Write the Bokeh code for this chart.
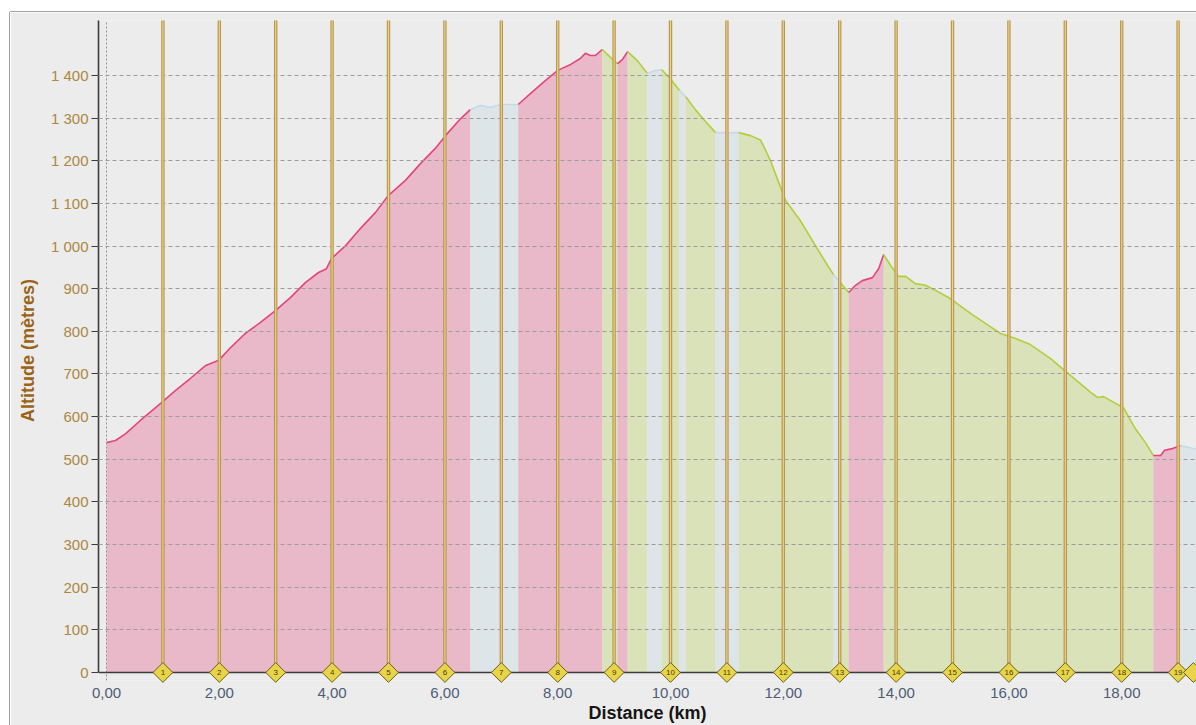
import numpy as np
from bokeh.plotting import figure
from bokeh.models import Range1d, FixedTicker, Span, Spacer
from bokeh.layouts import row, column
from bokeh.core.properties import value
from bokeh.embed import file_html
from bokeh.resources import INLINE

# ---- data ----
dist_km = [0.00, 0.16, 0.34, 0.60, 0.96, 1.22, 1.49, 1.76, 1.99, 2.20,
           2.46, 2.73, 3.00, 3.26, 3.53, 3.76, 3.90, 3.99, 4.24, 4.50,
           4.77, 5.00, 5.30, 5.57, 5.83, 6.01, 6.28, 6.45, 6.63, 6.81,
           6.99, 7.30, 7.52, 7.78, 8.00, 8.23, 8.40, 8.49, 8.58, 8.67,
           8.79, 8.94, 9.06, 9.15, 9.24, 9.41, 9.59, 9.73, 9.84, 10.00,
           10.16, 10.27, 10.44, 10.62, 10.80, 11.21, 11.42, 11.60, 11.77, 12.04,
           12.30, 12.57, 12.75, 12.89, 12.98, 13.16, 13.28, 13.40, 13.58, 13.69,
           13.78, 13.90, 14.04, 14.17, 14.34, 14.52, 14.70, 14.96, 15.32, 15.67,
           15.85, 16.12, 16.38, 16.74, 17.09, 17.45, 17.57, 17.68, 17.89, 18.03,
           18.24, 18.42, 18.56, 18.69, 18.76, 18.90, 19.04, 19.18, 19.33]
alt_m = [539, 544, 560, 591, 631, 661, 690, 720, 732, 762,
         795, 821, 849, 879, 915, 938, 947, 971, 1001, 1041,
         1079, 1119, 1154, 1194, 1229, 1259, 1299, 1320, 1330, 1325,
         1332, 1332, 1358, 1388, 1412, 1426, 1440, 1452, 1447, 1447,
         1461, 1442, 1428, 1438, 1456, 1435, 1405, 1412, 1414, 1392,
         1365, 1350, 1320, 1292, 1266, 1266, 1259, 1248, 1201, 1107,
         1060, 1001, 962, 933, 919, 891, 908, 919, 926, 947,
         980, 955, 929, 929, 912, 908, 896, 877, 842, 811,
         795, 783, 769, 736, 697, 657, 645, 647, 631, 621,
         572, 539, 509, 509, 521, 525, 532, 528, 523]

seg_start_km = [0.00, 6.45, 7.30, 8.79, 9.06, 9.24, 9.59, 9.84, 10.16, 10.27,
                10.80, 11.21, 12.89, 12.98, 13.16, 13.78, 18.56, 19.04]
seg_kind = ["climb", "flat", "climb", "desc", "climb", "desc", "flat", "desc", "flat", "desc",
            "flat", "desc", "flat", "desc", "climb", "desc", "climb", "flat"]
track_end_km = 19.33

km_marks = [1, 2, 3, 4, 5, 6, 7, 8, 9, 10, 11, 12, 13, 14, 15, 16, 17, 18, 19, 19.27]
km_labels = ["1", "2", "3", "4", "5", "6", "7", "8", "9", "10",
             "11", "12", "13", "14", "15", "16", "17", "18", "19", ""]
km_lines = [1, 2, 3, 4, 5, 6, 7, 8, 9, 10, 11, 12, 13, 14, 15, 16, 17, 18, 19]

y_ticks = [0, 100, 200, 300, 400, 500, 600, 700, 800, 900, 1000, 1100, 1200, 1300, 1400]
y_tick_labels = ["0", "100", "200", "300", "400", "500", "600", "700", "800", "900",
                 "1 000", "1 100", "1 200", "1 300", "1 400"]
x_ticks = [0, 2, 4, 6, 8, 10, 12, 14, 16, 18]
x_tick_labels = ["0,00", "2,00", "4,00", "6,00", "8,00", "10,00", "12,00", "14,00", "16,00", "18,00"]

# ---- styles ----
fill_colors = {"climb": "#E9B8C9", "flat": "#DDE5E9", "desc": "#D9E2B9"}
line_colors = {"climb": "#E4457A", "flat": "#C3DAE8", "desc": "#B3CE3C"}
BG = "#ECECEC"
FRAME = "#A2A2A2"
FONT = "Liberation Sans"

X0, X1 = -0.142, 19.326
Y0, Y1 = -18.8, 1529

p = figure(width=1186, height=713,
           x_range=Range1d(X0, X1), y_range=Range1d(Y0, Y1),
           output_backend="svg", toolbar_location=None,
           min_border_left=88, min_border_right=0,
           min_border_top=8, min_border_bottom=45)
p.background_fill_color = BG
p.border_fill_color = BG
p.outline_line_color = None

# ---- profile segments ----
d = np.array(dist_km, dtype=float)
a = np.array(alt_m, dtype=float)
bounds = seg_start_km + [track_end_km]
pieces = []
for i, kind in enumerate(seg_kind):
    s, e = bounds[i], bounds[i + 1]
    inner = (d > s) & (d < e)
    xs = np.concatenate([[s], d[inner], [e]])
    ys = np.interp(xs, d, a)
    pieces.append((kind, xs, ys))
for kind, xs, ys in pieces:
    p.varea(x=xs, y1=np.zeros_like(xs), y2=ys, fill_color=fill_colors[kind])
for kind, xs, ys in pieces:
    p.line(xs, ys, line_color=line_colors[kind], line_width=1.6)

# ---- grids ----
p.ygrid.ticker = FixedTicker(ticks=y_ticks)
p.ygrid.grid_line_color = "#9C9C9C"
p.ygrid.grid_line_dash = "4 3"
p.ygrid.grid_line_width = 1
p.ygrid.level = "guide"
p.xgrid.ticker = FixedTicker(ticks=[0])
p.xgrid.grid_line_color = "#909090"
p.xgrid.grid_line_dash = "2 2"
p.xgrid.level = "guide"

# ---- km marker lines ----
n = len(km_lines)
tops = [Y1] * n
zl = [0] * n
r1 = p.segment(x0=km_lines, y0=zl, x1=km_lines, y1=tops, line_color="#B8964E", line_width=3.4)
r2 = p.segment(x0=km_lines, y0=zl, x1=km_lines, y1=tops, line_color="#EDD68C", line_width=1.1)
r1.level = "annotation"
r2.level = "annotation"

# x axis line at altitude 0
p.add_layout(Span(location=0, dimension="width", line_color="#3C3C3C", line_width=1.6))

# ---- axes ----
p.xaxis.ticker = FixedTicker(ticks=x_ticks)
p.xaxis.major_label_overrides = dict(zip(x_ticks, x_tick_labels))
p.xaxis.axis_line_color = None
p.xaxis.major_tick_line_color = None
p.xaxis.minor_tick_line_color = None
p.xaxis.major_label_standoff = 1
p.xaxis.major_label_text_font = FONT
p.xaxis.major_label_text_font_size = "15px"
p.xaxis.major_label_text_color = "#4E5C74"
p.xaxis.axis_label = "Distance (km)"
p.xaxis.axis_label_text_font = FONT
p.xaxis.axis_label_text_font_size = "18px"
p.xaxis.axis_label_text_font_style = "bold"
p.xaxis.axis_label_text_color = "#151515"
p.xaxis.axis_label_standoff = 2

p.yaxis.bounds = (0, Y1)
p.yaxis.ticker = FixedTicker(ticks=y_ticks)
p.yaxis.major_label_overrides = dict(zip(y_ticks, y_tick_labels))
p.yaxis.axis_line_color = "#3C3C3C"
p.yaxis.axis_line_width = 1.6
p.yaxis.major_tick_line_color = "#3C3C3C"
p.yaxis.major_tick_out = 7
p.yaxis.major_tick_in = 0
p.yaxis.minor_tick_line_color = None
p.yaxis.major_label_standoff = 3
p.yaxis.major_label_text_font = FONT
p.yaxis.major_label_text_font_size = "15px"
p.yaxis.major_label_text_color = "#AD873F"
p.yaxis.axis_label = "Altitude (mètres)"
p.yaxis.axis_label_text_font = FONT
p.yaxis.axis_label_text_font_size = "18px"
p.yaxis.axis_label_text_font_style = "bold"
p.yaxis.axis_label_text_color = "#9A6418"
p.yaxis.axis_label_standoff = 10

# ---- km diamonds ----
zm = [0] * len(km_marks)
rd = p.scatter(km_marks, zm, marker="square", size=14, angle=np.pi / 4,
               fill_color="#E8D448", line_color="#6E5E1C", line_width=1)
rd.level = "overlay"
rt = p.text(km_marks, zm, text=km_labels, text_font=value(FONT), text_font_size="8px",
            text_align="center", text_baseline="middle", text_color="#4A3C0C")
rt.level = "overlay"

left_col = column(Spacer(width=1, height=12),
                  Spacer(width=1, height=713, styles={"background-color": FRAME}))
right_col = column(Spacer(width=1186, height=11),
                   Spacer(width=1186, height=1, styles={"background-color": FRAME}),
                   p)
layout = row(Spacer(width=9, height=725), left_col, right_col)

open("out.html", "w").write(file_html(layout, INLINE))
